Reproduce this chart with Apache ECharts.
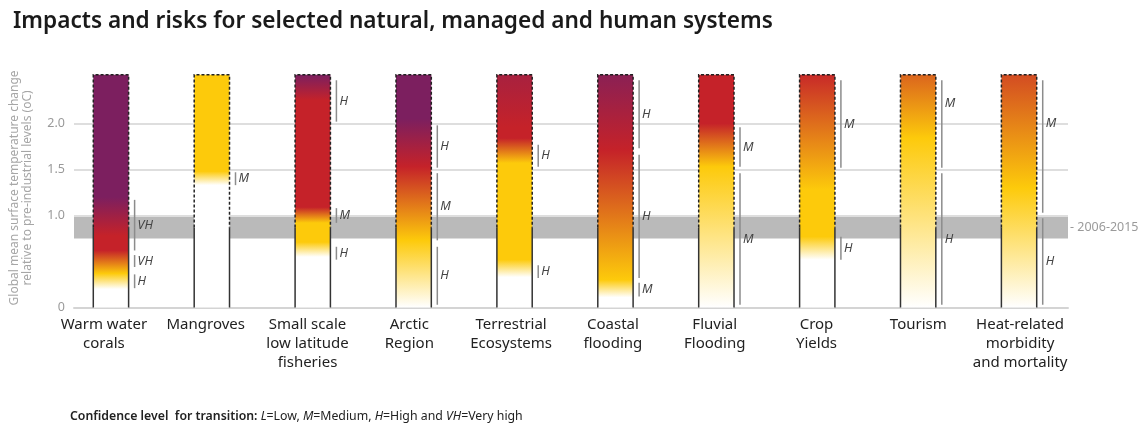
<!DOCTYPE html>
<html>
<head>
<meta charset="utf-8">
<script src="https://cdn.jsdelivr.net/npm/echarts@6/dist/echarts.min.js"></script>
<style>
	html, body { margin: 0; padding: 0; background: #fff; }
	#chart { width: 1141px; height: 426px; }
</style>
</head>
<body>
<div id="chart"></div>
<script>

const categories = [
	'Warm water\ncorals', 'Mangroves', 'Small scale\nlow latitude\nfisheries', 'Arctic\nRegion',
	'Terrestrial\nEcosystems', 'Coastal\nflooding', 'Fluvial\nFlooding', 'Crop\nYields',
	'Tourism', 'Heat-related\nmorbidity\nand mortality',
]

// temperature of the top of each ember, and the present day level (2006-2015)
const emberTop = 2.53
const presentDay = 0.87
const presentBand = [0.75, 1.0]
const yTickLabels = [0, 1.0, 1.5, 2.0]
const gridValues = [1.0, 1.5, 2.0]

// [temperature, risk level] 0 = undetectable, 1 = moderate, 2 = high, 3 = very high
const emberStops = [
	[[0, 0], [0.2, 0], [0.37, 1], [0.62, 2], [0.78, 2], [1.2, 3], [2.53, 3]],
	[[0, 0], [1.33, 0], [1.48, 1], [2.53, 1]],
	[[0, 0], [0.55, 0], [0.71, 1], [0.92, 1], [1.09, 2], [2.25, 2], [2.53, 3]],
	[[0, 0], [0.73, 1], [1.53, 2], [2.05, 3], [2.53, 3]],
	[[0, 0], [0.33, 0], [0.52, 1], [1.57, 1], [1.84, 2], [1.96, 2], [2.53, 2.4]],
	[[0, 0], [0.11, 0], [0.30, 1], [1.71, 2], [2.53, 2.8]],
	[[0, 0], [1.53, 1], [2.0, 2], [2.53, 2]],
	[[0, 0], [0.52, 0], [0.77, 1], [1.28, 1], [2.53, 1.95]],
	[[0, 0], [1.84, 1], [2.53, 1.6]],
	[[0, 0], [1.30, 1], [2.53, 1.75]],
]

// transitions: [from, to, confidence, label at (optional)]
const confidence = [
	[[0.62, 1.17, 'VH'], [0.44, 0.57, 'VH'], [0.21, 0.36, 'H']],
	[[1.33, 1.47, 'M']],
	[[2.02, 2.47, 'H'], [0.92, 1.08, 'M'], [0.52, 0.66, 'H']],
	[[1.52, 1.98, 'H'], [0.73, 1.46, 'M'], [0.03, 0.66, 'H']],
	[[1.53, 1.77, 'H'], [0.32, 0.46, 'H']],
	[[1.73, 2.47, 'H'], [0.32, 1.66, 'H'], [0.12, 0.27, 'M']],
	[[1.53, 1.96, 'M'], [0.03, 1.46, 'M']],
	[[1.52, 2.47, 'M'], [0.52, 0.77, 'H']],
	[[1.52, 2.47, 'M', 2.22], [0.03, 1.46, 'H']],
	[[1.03, 2.47, 'M', 2.0], [0.03, 0.97, 'H']],
]

const levelColors = ['#ffffff', '#fdca0b', '#c52229', '#7c1f5f']
const font = '"Noto Sans", sans-serif'

function mix(a, b, t) {
	let pa = [1, 3, 5].map(k => parseInt(a.slice(k, k + 2), 16))
	let pb = [1, 3, 5].map(k => parseInt(b.slice(k, k + 2), 16))
	return 'rgb(' + pa.map((v, k) => Math.round(v + (pb[k] - v) * t)).join(',') + ')'
}
function levelColor(level) {
	let lo = Math.min(Math.floor(level), levelColors.length - 2)
	return mix(levelColors[lo], levelColors[lo + 1], level - lo)
}

function renderEmber(params, api) {
	let i = api.value(0)
	let top = api.value(1)
	let base = api.coord([i, 0])
	let tip = api.coord([i, top])
	let now = api.coord([i, presentDay])
	let w = api.size([1, 0])[0] * 0.35
	let x0 = base[0] - w / 2, x1 = base[0] + w / 2
	let stops = emberStops[i].map(s => ({ offset: s[0] / top, color: levelColor(s[1]) }))
	let children = [{
		type: 'rect',
		shape: { x: x0, y: tip[1], width: w, height: base[1] - tip[1] },
		style: { fill: new echarts.graphic.LinearGradient(0, 1, 0, 0, stops) },
	}, {
		type: 'line',
		shape: { x1: x0, y1: base[1], x2: x0, y2: now[1] },
		style: { stroke: '#333', lineWidth: 1.5 },
	}, {
		type: 'line',
		shape: { x1: x1, y1: base[1], x2: x1, y2: now[1] },
		style: { stroke: '#333', lineWidth: 1.5 },
	}, {
		type: 'polyline',
		shape: { points: [[x0, now[1]], [x0, tip[1]], [x1, tip[1]], [x1, now[1]]] },
		style: { stroke: '#222', lineWidth: 1.5, lineDash: [3, 2], fill: null },
	}]
	confidence[i].forEach(c => {
		let a = api.coord([i, c[0]]), b = api.coord([i, c[1]])
		let at = api.coord([i, c[3] != null ? c[3] : (c[0] + c[1]) / 2])
		let lx = x1 + 6
		children.push({
			type: 'line',
			shape: { x1: lx, y1: a[1], x2: lx, y2: b[1] },
			style: { stroke: '#8c8c8c', lineWidth: 1.5 },
		})
		children.push({
			type: 'text',
			style: {
				text: c[2], x: lx + 3, y: at[1], align: 'left', verticalAlign: 'middle',
				fontFamily: font, fontStyle: 'italic', fontSize: 12.5, fill: '#444',
			},
		})
	})
	return { type: 'group', children }
}

const chart = echarts.init(document.getElementById('chart'))
chart.setOption({
	animation: false,
	backgroundColor: '#fff',
	textStyle: { fontFamily: font },
	title: {
		text: 'Impacts and risks for selected natural, managed and human systems',
		left: 8, top: 5,
		textStyle: { fontFamily: font, fontSize: 22.6, fontWeight: 600, color: '#1a1a1a' },
	},
	grid: [
		{ left: 60.5, right: 71.5, top: 68.3, bottom: 118.5 },
		{ left: 67, right: 73, top: 68.3, bottom: 118.5 },
		{ left: 53, right: 70, top: 68.3, bottom: 118.5 },
	],
	xAxis: [{
		type: 'category', gridIndex: 0, data: categories,
		axisLine: { show: false }, axisTick: { show: false }, axisLabel: { show: false },
	}, {
		type: 'value', gridIndex: 1, min: 0, max: 1,
		axisLine: { show: true, onZero: false, lineStyle: { color: '#d4d4d4', width: 2 } },
		axisTick: { show: false }, axisLabel: { show: false }, splitLine: { show: false },
	}, {
		type: 'category', gridIndex: 2, data: categories,
		axisLine: { show: false }, axisTick: { show: false },
		axisLabel: { interval: 0, margin: 8, fontSize: 15, lineHeight: 19, color: '#222', fontFamily: font },
	}],
	yAxis: [{
		type: 'value', gridIndex: 0, min: 0, max: 2.6,
		show: false,
	}, {
		type: 'value', gridIndex: 1, min: 0, max: 2.6, interval: 0.5,
		name: 'Global mean surface temperature change\nrelative to pre-industrial levels (oC)',
		nameLocation: 'middle', nameRotate: 90, nameGap: 40,
		nameTextStyle: { color: '#a6a6a6', fontSize: 12, lineHeight: 13, fontFamily: font },
		axisLine: { show: false }, axisTick: { show: false }, splitLine: { show: false },
		axisLabel: {
			margin: 9, color: '#9a9a9a', fontSize: 12.5, fontFamily: font,
			formatter: v => {
				let hit = yTickLabels.find(t => Math.abs(t - v) < 1e-6)
				if (hit == null) return ''
				return hit == 0 ? '0' : hit.toFixed(1)
			},
		},
	}, {
		type: 'value', gridIndex: 2, min: 0, max: 2.6,
		show: false,
	}],
	series: [{
		name: 'reference',
		type: 'line', xAxisIndex: 1, yAxisIndex: 1, data: [],
		silent: true, z: 1,
		markLine: {
			silent: true, symbol: 'none',
			lineStyle: { color: '#dedede', width: 2, type: 'solid' },
			label: { show: false },
			data: gridValues.map(v => ({ yAxis: v })),
		},
		markArea: {
			silent: true,
			itemStyle: { color: '#bababa' },
			label: {
				show: true, position: 'right', distance: 2,
				formatter: '- 2006-2015', color: '#9a9a9a', fontSize: 12.5, fontFamily: font,
			},
			data: [[{ yAxis: presentBand[0] }, { yAxis: presentBand[1] }]],
		},
	}, {
		name: 'embers',
		type: 'custom', xAxisIndex: 0, yAxisIndex: 0, z: 5,
		renderItem: renderEmber,
		encode: { x: 0, y: 1 },
		clip: false,
		data: categories.map((c, i) => [i, emberTop]),
	}],
	graphic: [{
		type: 'text', left: 70, top: 410,
		style: {
			text: '{b|Confidence level  for transition: }{i|L}=Low, {i|M}=Medium, {i|H}=High and {i|VH}=Very high',
			fontFamily: font, fontSize: 12.3, fill: '#222',
			rich: {
				b: { fontWeight: 600, fontFamily: font, fontSize: 12.3, color: '#222' },
				i: { fontStyle: 'italic', fontFamily: font, fontSize: 12.3, color: '#222' },
			},
		},
	}],
})
</script>
</body>
</html>
